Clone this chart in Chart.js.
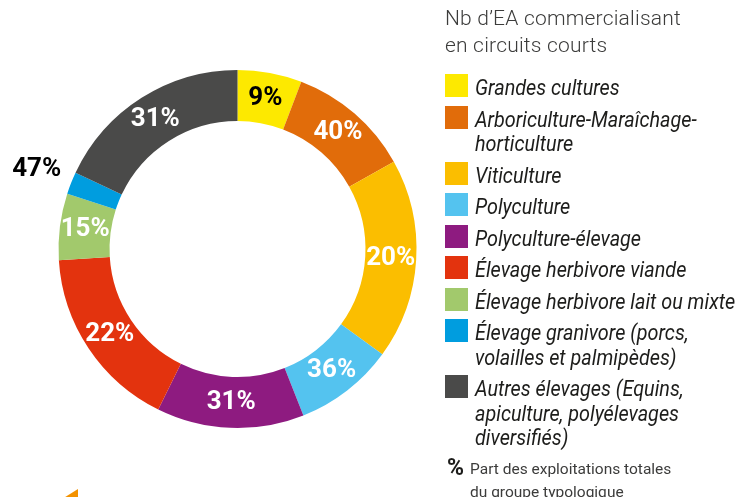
<!DOCTYPE html>
<html>
<head>
<meta charset="utf-8">
<script src="https://cdn.jsdelivr.net/npm/chart.js@4.4.0/dist/chart.umd.min.js"></script>
<style>
  html, body { margin: 0; padding: 0; background: #fff; }
  body { width: 749px; height: 497px; overflow: hidden; position: relative; font-family: Roboto, "DejaVu Sans", sans-serif; }
  #wrap { position: absolute; left: 0; top: 0; width: 475px; height: 497px; }
  #title { position: absolute; left: 445px; top: 5px; font-size: 21px; line-height: 27px; color: #3c3c3b; font-weight: 300; letter-spacing: 0.2px; }
  #legend { position: absolute; left: 445px; top: 74px; list-style: none; margin: 0; padding: 0; }
  #legend li { display: flex; align-items: flex-start; margin-bottom: 7px; }
  #legend .sw { width: 23px; height: 23px; flex: none; margin-right: 7px; }
  #legend .tx { position: relative; top: 2px; font-family: Roboto, sans-serif; font-style: italic; font-size: 22px; line-height: 24.5px; white-space: pre; color: #1d1d1b; transform: scaleX(0.9); transform-origin: 0 0; }
  #note { position: absolute; left: 447px; top: 455px; color: #1d1d1b; }
  #note b { position: absolute; left: 0; top: -1px; font-size: 23px; }
  #note span { position: absolute; left: 23px; top: 3px; width: 280px; font-size: 15.5px; line-height: 23px; color: #3c3c3b; white-space: pre-line; }
  #tri { position: absolute; left: 62px; top: 489px; width: 16px; height: 10px; background: #f39200; clip-path: polygon(0 100%, 100% 0, 100% 100%); }
</style>
</head>
<body>
<div id="wrap"><canvas id="donut"></canvas></div>
<div id="title">Nb d’EA commercialisant<br>en circuits courts</div>
<ul id="legend"></ul>
<div id="note"><b>%</b><span>Part des exploitations totales
du groupe typologique</span></div>
<div id="tri"></div>
<script>
// categories (legend order = segment order, clockwise from top)
var categories = [
  'Grandes cultures',
  'Arboriculture-Maraîchage-\nhorticulture',
  'Viticulture',
  'Polyculture',
  'Polyculture-élevage',
  'Élevage herbivore viande',
  'Élevage herbivore lait ou mixte',
  'Élevage granivore (porcs,\nvolailles et palmipèdes)',
  'Autres élevages (Equins,\napiculture, polyélevages\ndiversifiés)'
];
// share of farms selling in short circuits (segment size, %)
var counts = [5.8, 11.1, 18.1, 9.0, 13.3, 16.7, 6.0, 2.0, 18.0];
// percent of total farms in the group (printed labels)
var shares = [9, 40, 20, 36, 31, 22, 15, 47, 31];

var colors = ['#fde900', '#e16c0a', '#fbbe00', '#54c3ef', '#8e1b80', '#e3330e', '#a2c96c', '#009ddf', '#4a4a49'];
var textColors = ['#000', '#fff', '#fff', '#fff', '#fff', '#fff', '#fff', '#000', '#fff'];

// html legend
var legend = document.getElementById('legend');
categories.forEach(function (c, i) {
  var li = document.createElement('li');
  li.innerHTML = '<div class="sw" style="background:' + colors[i] + '"></div><div class="tx"></div>';
  li.querySelector('.tx').textContent = c;
  legend.appendChild(li);
});

// percentage labels on the ring (outside when the slice is too thin)
var pctLabels = {
  id: 'pctLabels',
  afterDatasetsDraw: function (chart) {
    var ctx = chart.ctx;
    var meta = chart.getDatasetMeta(0);
    ctx.save();
    ctx.font = 'bold 26px Roboto';
    ctx.textAlign = 'center';
    ctx.textBaseline = 'middle';
    meta.data.forEach(function (arc, i) {
      var p = arc.getProps(['x', 'y', 'startAngle', 'endAngle', 'innerRadius', 'outerRadius'], true);
      var mid = (p.startAngle + p.endAngle) / 2;
      var r = (p.innerRadius + p.outerRadius) / 2;
      if (p.endAngle - p.startAngle < 0.2) r = p.outerRadius + 37;
      ctx.fillStyle = textColors[i];
      ctx.fillText(shares[i] + '%', p.x + Math.cos(mid) * r, p.y + Math.sin(mid) * r);
    });
    ctx.restore();
  }
};

var ctx = document.getElementById('donut').getContext('2d');
var chart = new Chart(ctx, {
  type: 'doughnut',
  data: {
    labels: categories,
    datasets: [{
      data: counts,
      backgroundColor: colors,
      borderWidth: 0,
      hoverOffset: 0,
      offset: 0
    }]
  },
  options: {
    responsive: true,
    maintainAspectRatio: false,
    animation: false,
    cutout: '71.5%',
    layout: { padding: { left: 58.5, right: 58.5, top: 70, bottom: 69 } },
    plugins: {
      legend: { display: false },
      tooltip: { enabled: false }
    }
  },
  plugins: [pctLabels]
});
</script>
</body>
</html>
